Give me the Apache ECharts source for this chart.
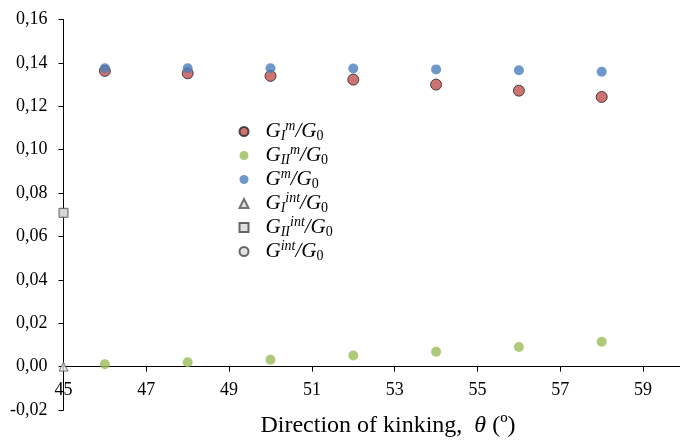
<!DOCTYPE html>
<html>
<head>
<meta charset="utf-8">
<script src="https://cdn.jsdelivr.net/npm/echarts@6/dist/echarts.min.js"></script>
<style>
  html, body { margin: 0; padding: 0; background: #fff; }
  #chart { width: 680px; height: 441px; }
</style>
</head>
<body>
<div id="chart"></div>
<script>
// kink direction (deg) and energy release ratios
var theta = [46, 48, 50, 52, 54, 56, 58]
var gIm = [0.1363, 0.1352, 0.1340, 0.1323, 0.1300, 0.1272, 0.1243]
var gIIm = [0.0011, 0.0020, 0.0032, 0.0051, 0.0068, 0.0090, 0.0115]
var gm = [0.1375, 0.1375, 0.1375, 0.1374, 0.1370, 0.1366, 0.1359]

// interface values, plotted at theta = 45
var thetaInt = [45]
var gIint = [0]
var gIIint = [0.0709]
var gint = [0.0709]

var serif = 'Liberation Serif'

function pairs(xs, ys) {
  return xs.map(function (x, i) { return [x, ys[i]] })
}

var legendText = {
  'GIm': '{g|G}{sub|I}{sup|m}{g|/G}{sub0|0}',
  'GIIm': '{g|G}{sub|II}{sup|m}{g|/G}{sub0|0}',
  'Gm': '{g|G}{sup|m}{g|/G}{sub0|0}',
  'GIint': '{g|G}{sub|I}{sup|int}{g|/G}{sub0|0}',
  'GIIint': '{g|G}{sub|II}{sup|int}{g|/G}{sub0|0}',
  'Gint': '{g|G}{sup|int}{g|/G}{sub0|0}'
}

var chart = echarts.init(document.getElementById('chart'))

var option = {
  animation: false,
  textStyle: { fontFamily: serif, color: '#000' },
  grid: { left: 63.5, right: -4.5, top: 19.5, bottom: 31, outerBoundsMode: 'none', containLabel: false },
  legend: {
    orient: 'vertical',
    left: 238.5,
    top: 119.5,
    padding: 0,
    itemGap: 0,
    itemWidth: 9,
    itemHeight: 9,
    selectedMode: false,
    data: ['GIm', 'GIIm', 'Gm', 'GIint', 'GIIint', 'Gint'],
    formatter: function (name) { return legendText[name] },
    textStyle: {
      padding: [0, 0, 0, 12],
      rich: {
        g: { fontFamily: serif, fontStyle: 'italic', fontSize: 21, lineHeight: 24, color: '#000' },
        sub: { fontFamily: serif, fontStyle: 'italic', fontSize: 14, lineHeight: 12, verticalAlign: 'bottom', color: '#000' },
        sub0: { fontFamily: serif, fontSize: 14, lineHeight: 12, verticalAlign: 'bottom', color: '#000' },
        sup: { fontFamily: serif, fontStyle: 'italic', fontSize: 14, lineHeight: 14, verticalAlign: 'top', color: '#000' }
      }
    }
  },
  xAxis: {
    type: 'value',
    min: 45,
    max: 60,
    interval: 2,
    axisLine: { onZero: true, lineStyle: { color: '#000', width: 1 } },
    axisTick: { inside: false, length: 5, lineStyle: { color: '#000' } },
    splitLine: { show: false },
    axisLabel: {
      // labels sit just under the zero line, not under the grid bottom
      margin: -29,
      fontSize: 18,
      fontFamily: serif,
      color: '#000',
      formatter: function (v) { return v === 60 ? '' : String(v) }
    },
    name: '{t|Direction of kinking,  }{th|θ}{t| (º)}',
    nameLocation: 'middle',
    nameGap: 4,
    nameTextStyle: {
      padding: [0, 0, 0, 28],
      rich: {
        t: { fontFamily: serif, fontSize: 24, color: '#000' },
        th: { fontFamily: serif, fontStyle: 'italic', fontSize: 24, color: '#000' }
      }
    }
  },
  yAxis: {
    type: 'value',
    min: -0.02,
    max: 0.16,
    interval: 0.02,
    axisLine: { show: true, onZero: false, lineStyle: { color: '#000', width: 1 } },
    axisTick: { show: true, length: 5, lineStyle: { color: '#000' } },
    splitLine: { show: false },
    axisLabel: {
      margin: 16,
      fontSize: 18,
      fontFamily: serif,
      color: '#000',
      formatter: function (v) { return v.toFixed(2).replace('.', ',') }
    }
  },
  series: [
    {
      name: 'GIm', type: 'scatter', clip: false, symbol: 'circle', symbolSize: 11,
      itemStyle: { color: '#c0504d', borderColor: '#222', borderWidth: 1 },
      data: pairs(theta, gIm)
    },
    {
      name: 'GIIm', type: 'scatter', clip: false, symbol: 'circle', symbolSize: 10,
      itemStyle: { color: '#9bbb59' },
      data: pairs(theta, gIIm)
    },
    {
      name: 'Gm', type: 'scatter', clip: false, symbol: 'circle', symbolSize: 10,
      itemStyle: { color: '#4a7ebb' },
      data: pairs(theta, gm)
    },
    {
      name: 'GIint', type: 'scatter', clip: false, symbol: 'triangle', symbolSize: 9, z: 4,
      itemStyle: { color: '#d9d9d9', borderColor: '#555', borderWidth: 1 },
      data: pairs(thetaInt, gIint)
    },
    {
      name: 'GIIint', type: 'scatter', clip: false, symbol: 'rect', symbolSize: 9, z: 4,
      itemStyle: { color: '#d9d9d9', borderColor: '#444', borderWidth: 1 },
      data: pairs(thetaInt, gIIint)
    },
    {
      name: 'Gint', type: 'scatter', clip: false, symbol: 'circle', symbolSize: 8, z: 3,
      itemStyle: { color: '#d9d9d9', borderColor: '#444', borderWidth: 1 },
      data: pairs(thetaInt, gint)
    }
  ]
}

chart.setOption(option)
</script>
</body>
</html>
